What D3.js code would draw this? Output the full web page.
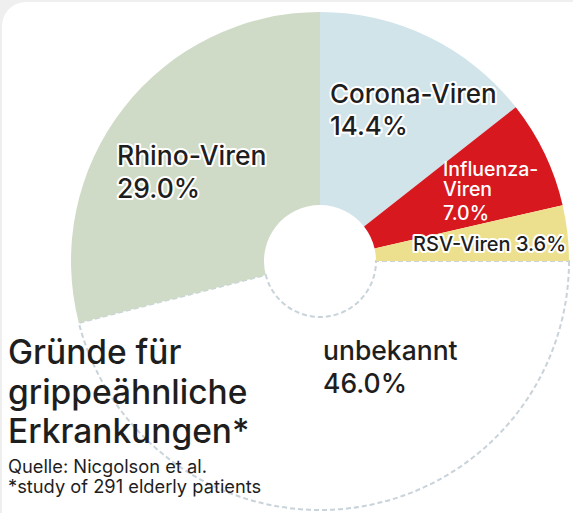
<!DOCTYPE html>
<html>
<head>
<meta charset="utf-8">
<script src="https://cdn.jsdelivr.net/npm/d3@7"></script>
<style>
  html, body { margin: 0; padding: 0; background: #efefef; }
  svg { display: block; }
  text { font-family: Inter, "Noto Sans", sans-serif; }
</style>
</head>
<body>
<svg id="chart" width="573" height="513"></svg>
<script>
// Shares of influenza-like illness causes, clockwise from 12 o'clock
const categories = ["Corona-Viren", "Influenza-Viren", "RSV-Viren", "unbekannt", "Rhino-Viren"];
const shares = [14.4, 7.0, 3.6, 46.0, 29.0];
const sliceColors = ["#d0e4ea", "#d7191f", "#ece08f", "#ffffff", "#cfdbc6"];

const titleLines = ["Gründe für", "grippeähnliche", "Erkrankungen*"];
const noteLines = ["Quelle: Nicgolson et al.", "*study of 291 elderly patients"];

const W = 573, H = 513;
const cx = 320, cy = 261, outerR = 249, innerR = 56;

const svg = d3.select("#chart");

// white card with rounded corner
svg.append("rect")
  .attr("x", 2).attr("y", 2)
  .attr("width", W + 40).attr("height", H + 40)
  .attr("rx", 24)
  .attr("fill", "#ffffff");

const pie = d3.pie().sort(null).value(d => d.value);
const arc = d3.arc().innerRadius(innerR).outerRadius(outerR);

const data = categories.map((c, i) => ({ name: c, value: shares[i], color: sliceColors[i] }));
const arcs = pie(data);

const g = svg.append("g").attr("transform", `translate(${cx},${cy})`);

// unknown slice first: white with a dashed outline, the coloured slices sit on top
const order = arcs.slice().sort((a, b) => (a.data.name === "unbekannt" ? -1 : b.data.name === "unbekannt" ? 1 : 0));
g.selectAll("path.slice")
  .data(order)
  .join("path")
  .attr("class", "slice")
  .attr("d", arc)
  .attr("fill", d => d.data.color)
  .attr("stroke", d => d.data.name === "unbekannt" ? "#c9d3da" : "none")
  .attr("stroke-width", 2)
  .attr("stroke-dasharray", d => d.data.name === "unbekannt" ? "5 3" : null);

const fmt = v => v.toFixed(1) + "%";

// label layout per category: anchor point, font size, line spacing, text colour, halo
const labelLayout = {
  "Rhino-Viren":     { x: 117, y: 165, size: 26.5, lh: 33, fill: "#1e1e1e", halo: true,
                       lines: d => [d.name, fmt(d.value)] },
  "Corona-Viren":    { x: 330, y: 103, size: 26, lh: 32, fill: "#1e1e1e", halo: true,
                       lines: d => [d.name, fmt(d.value)] },
  "Influenza-Viren": { x: 443, y: 176, size: 19.5, lh: [0, 19.5, 24.5], fill: "#ffffff", halo: false,
                       lines: d => ["Influenza-", "Viren", fmt(d.value)] },
  "RSV-Viren":       { x: 413, y: 251, size: 20, lh: 0, fill: "#1e1e1e", halo: true,
                       lines: d => [d.name + " " + fmt(d.value)] },
  "unbekannt":       { x: 323, y: 360, size: 26.5, lh: 33, fill: "#1e1e1e", halo: false,
                       lines: d => [d.name, fmt(d.value)] }
};

arcs.forEach(a => {
  const L = labelLayout[a.data.name];
  const t = svg.append("text")
    .attr("x", L.x).attr("y", L.y)
    .attr("font-size", L.size)
    .attr("font-weight", 500)
    .attr("fill", L.fill);
  if (L.halo) {
    t.attr("stroke", "#ffffff").attr("stroke-width", 4)
     .attr("stroke-linejoin", "round").attr("paint-order", "stroke");
  }
  let y = L.y;
  L.lines(a.data).forEach((s, i) => {
    if (i > 0) y += Array.isArray(L.lh) ? L.lh[i] : L.lh;
    t.append("tspan").attr("x", L.x).attr("y", y).text(s);
  });
});

// title block
const title = svg.append("text")
  .attr("font-size", 33.5).attr("font-weight", 500).attr("fill", "#1e1e1e");
titleLines.forEach((s, i) => {
  title.append("tspan").attr("x", 8).attr("y", 364 + i * 39.5).text(s);
});

const note = svg.append("text")
  .attr("font-size", 18.3).attr("font-weight", 400).attr("fill", "#1e1e1e");
noteLines.forEach((s, i) => {
  note.append("tspan").attr("x", 8).attr("y", 472.5 + i * 20).text(s);
});
</script>
</body>
</html>
